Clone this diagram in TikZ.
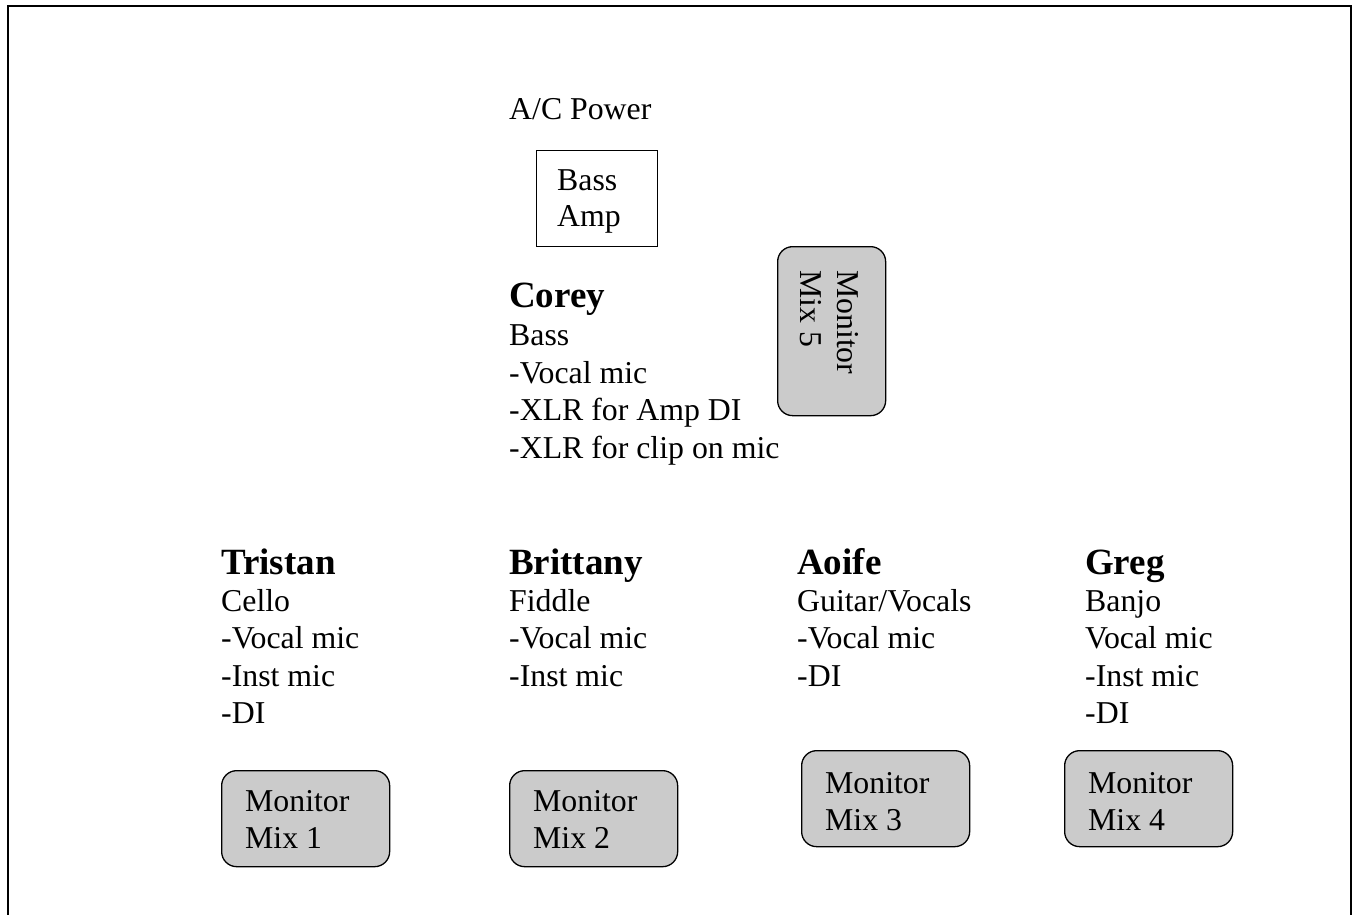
\documentclass[tikz,border=0pt]{standalone}
\usepackage{fontspec}
\setmainfont{Liberation Serif}
\definecolor{mixgray}{HTML}{CBCBCB}
\begin{document}
\begin{tikzpicture}[x=1pt,y=-1pt,
  txt/.style={anchor=base west, inner sep=0pt, font=\fontsize{31.8}{37}\selectfont},
  persona/.style={anchor=base west, inner sep=0pt, font=\fontsize{37}{40}\selectfont\bfseries},
  ampbox/.style={draw, line width=1.3pt, anchor=north west, inner sep=0pt, minimum width=121pt, minimum height=96pt},
  monbox/.style={draw, fill=mixgray, line width=1.3pt, rounded corners=15pt, anchor=north west, inner sep=0pt, minimum width=168pt, minimum height=96pt},
  outerframe/.style={draw, line width=2pt}]
\useasboundingbox (0,0) rectangle (1353,914);
% outer frame (bottom edge falls outside the page)
\coordinate (fbl) at (8,916);
\coordinate (ftl) at (8,6);
\coordinate (ftr) at (1351,6);
\coordinate (fbr) at (1351,916);
\draw[outerframe] (fbl) -- (ftl) -- (ftr) -- (fbr);

% top area
\node[txt] (acpower) at (509,119) {A/C Power};
\node[ampbox] (amp) at (536,150) {};
\node[txt] (amp1) at (557,190) {Bass};
\node[txt] (amp2) at (557,226) {Amp};

\node[draw, fill=mixgray, line width=1.3pt, rounded corners=15pt, anchor=north west, inner sep=0pt, minimum width=108pt, minimum height=169pt] (mix5) at (777,246) {};
\node[txt, rotate=-90] (mix5a) at (837,270) {Monitor};
\node[txt, rotate=-90] (mix5b) at (800,270) {Mix 5};

\node[persona] (corey) at (509,307) {Corey};
\node[txt] (corey1) at (509,345) {Bass};
\node[txt] (corey2) at (509,383) {-Vocal mic};
\node[txt] (corey3) at (509,420) {-XLR for Amp DI};
\node[txt] (corey4) at (509,458) {-XLR for clip on mic};

% Tristan
\node[persona] (tristan) at (221,574) {Tristan};
\node[txt] (tristan1) at (221,611) {Cello};
\node[txt] (tristan2) at (221,648) {-Vocal mic};
\node[txt] (tristan3) at (221,686) {-Inst mic};
\node[txt] (tristan4) at (221,723) {-DI};

% Brittany
\node[persona] (brittany) at (509,574) {Brittany};
\node[txt] (brittany1) at (509,611) {Fiddle};
\node[txt] (brittany2) at (509,648) {-Vocal mic};
\node[txt] (brittany3) at (509,686) {-Inst mic};

% Aoife
\node[persona] (aoife) at (797,574) {Aoife};
\node[txt] (aoife1) at (797,611) {Guitar/Vocals};
\node[txt] (aoife2) at (797,648) {-Vocal mic};
\node[txt] (aoife3) at (797,686) {-DI};

% Greg
\node[persona] (greg) at (1085,574) {Greg};
\node[txt] (greg1) at (1085,611) {Banjo};
\node[txt] (greg2) at (1085,648) {Vocal mic};
\node[txt] (greg3) at (1085,686) {-Inst mic};
\node[txt] (greg4) at (1085,723) {-DI};

% monitor mixes
\node[monbox] (mix1) at (221,770) {};
\node[txt] (mix1a) at (245,811) {Monitor};
\node[txt] (mix1b) at (245,848) {Mix 1};

\node[monbox] (mix2) at (509,770) {};
\node[txt] (mix2a) at (533,811) {Monitor};
\node[txt] (mix2b) at (533,848) {Mix 2};

\node[monbox] (mix3) at (801,750) {};
\node[txt] (mix3a) at (825,793) {Monitor};
\node[txt] (mix3b) at (825,830) {Mix 3};

\node[monbox] (mix4) at (1064,750) {};
\node[txt] (mix4a) at (1088,793) {Monitor};
\node[txt] (mix4b) at (1088,830) {Mix 4};
\end{tikzpicture}
\end{document}
